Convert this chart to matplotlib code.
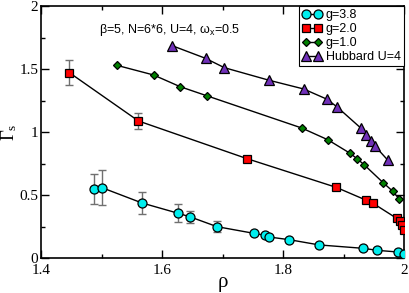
import numpy as np
import matplotlib
matplotlib.use("Agg")
import matplotlib.pyplot as plt
from matplotlib.ticker import MultipleLocator

# data
rho_g38 = [1.488, 1.501, 1.567, 1.627, 1.647, 1.691, 1.752, 1.771, 1.777, 1.810, 1.860, 1.933, 1.956, 1.990, 2.000]
gam_g38 = [0.548, 0.560, 0.439, 0.357, 0.328, 0.251, 0.198, 0.182, 0.169, 0.148, 0.106, 0.079, 0.063, 0.050, 0.034]
err_g38 = [0.12, 0.14, 0.086, 0.07, 0.045, 0.045, 0, 0, 0, 0, 0, 0, 0, 0, 0]

rho_g20 = [1.447, 1.561, 1.741, 1.888, 1.938, 1.949, 1.988, 1.993, 1.997, 2.000]
gam_g20 = [1.473, 1.090, 0.790, 0.563, 0.460, 0.436, 0.317, 0.296, 0.262, 0.225]
err_g20 = [0.10, 0.066, 0, 0, 0, 0, 0, 0, 0, 0]

rho_g10 = [1.525, 1.586, 1.630, 1.674, 1.831, 1.874, 1.911, 1.923, 1.934, 1.966, 1.981, 1.992]
gam_g10 = [1.532, 1.455, 1.362, 1.290, 1.034, 0.941, 0.833, 0.788, 0.743, 0.598, 0.534, 0.471]

rho_hub = [1.617, 1.672, 1.703, 1.777, 1.834, 1.872, 1.889, 1.929, 1.938, 1.945, 1.952, 1.973]
gam_hub = [1.687, 1.587, 1.513, 1.413, 1.344, 1.264, 1.203, 1.032, 0.981, 0.931, 0.891, 0.780]

serif = "Liberation Serif"
sans = "Liberation Sans"

plt.rcParams["mathtext.fontset"] = "custom"
plt.rcParams["mathtext.rm"] = serif
plt.rcParams["mathtext.sf"] = sans

fig = plt.figure(figsize=(4.09, 2.93), dpi=100)
ax = fig.add_axes([41 / 409, 1 - 258.3 / 293, 363 / 409, 252 / 293])

ebar = dict(ecolor="#707070", elinewidth=1, capsize=3, capthick=1)

# error bars first so markers sit on top
ax.errorbar(rho_g38, gam_g38, yerr=err_g38, fmt="none", zorder=1, **ebar)
ax.errorbar(rho_g20, gam_g20, yerr=err_g20, fmt="none", zorder=1, **ebar)

ax.plot(rho_g38, gam_g38, "-o", color="black", lw=1, ms=6.5, mfc="#00eeee",
        mec="black", mew=0.9, label="g=3.8", zorder=3)
ax.plot(rho_g20, gam_g20, "-s", color="black", lw=1, ms=5.5, mfc="#ff0000",
        mec="black", mew=0.9, label="g=2.0", zorder=3)
ax.plot(rho_g10, gam_g10, "-D", color="black", lw=1, ms=4.5, mfc="#008000",
        mec="black", mew=0.9, label="g=1.0", zorder=3)
ax.plot(rho_hub, gam_hub, "-^", color="black", lw=1, ms=6.5, mfc="#7030b8",
        mec="black", mew=0.9, label="Hubbard U=4", zorder=3)

ax.set_xlim(1.4, 2.0)
ax.set_ylim(0, 2)
ax.xaxis.set_minor_locator(MultipleLocator(0.1))
ax.yaxis.set_minor_locator(MultipleLocator(0.25))
ax.set_xticks([1.4, 1.6, 1.8, 2.0], ["1.4", "1.6", "1.8", "2"])
ax.set_yticks([0, 0.5, 1, 1.5, 2], ["0", "0.5", "1", "1.5", "2"])
ax.tick_params(which="both", direction="in", top=True, right=True, width=1)
ax.tick_params(which="major", length=6, labelsize=11, pad=2, labelfontfamily=serif)
ax.tick_params(axis="x", which="major", pad=4)
ax.tick_params(which="minor", length=3)
for sp in ax.spines.values():
    sp.set_linewidth(1.2)

ax.set_xlabel("ρ", fontsize=15, family=serif, labelpad=-3)
ax.set_ylabel(r"$\mathrm{\Gamma_s}$", fontsize=13.5, labelpad=0)

ax.text(0.16, 0.905, r"β=5, N=6*6, U=4, ω$_\mathsf{x}$=0.5", transform=ax.transAxes,
        fontsize=9, family=sans, va="center")

leg = ax.legend(loc="upper right", numpoints=2, frameon=True, fancybox=False,
                edgecolor="black", framealpha=1, prop={"family": sans, "size": 9},
                borderaxespad=0, handlelength=1.6, handletextpad=0.3,
                labelspacing=0.15, borderpad=0.25)
leg.get_frame().set_linewidth(0.8)

fig.savefig("out.png", dpi=100)
